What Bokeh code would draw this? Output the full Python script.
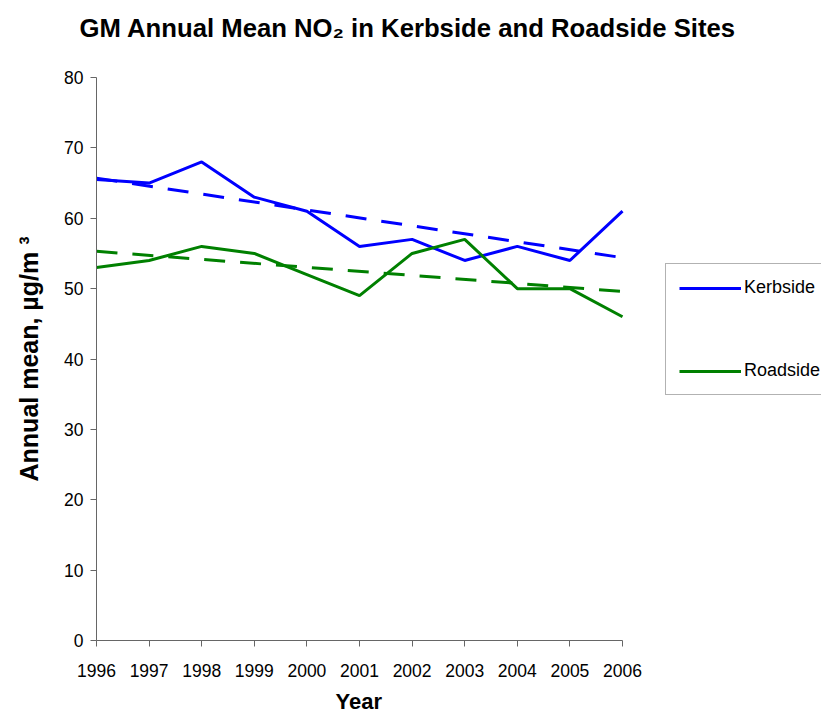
from bokeh.plotting import figure
from bokeh.models import Range1d, FixedTicker, Legend, LegendItem, Title
from bokeh.embed import file_html
from bokeh.resources import INLINE

years = [1996, 1997, 1998, 1999, 2000, 2001, 2002, 2003, 2004, 2005, 2006]
kerbside = [65.5, 65, 68, 63, 61, 56, 57, 54, 56, 54, 61]
roadside = [53, 54, 56, 55, 52, 49, 55, 57, 50, 50, 46]
trend_years = [1996, 2006]
kerbside_trend = [65.7, 54.4]
roadside_trend = [55.3, 49.6]
y_ticks = [0, 10, 20, 30, 40, 50, 60, 70, 80]

FONT = "Liberation Sans"

# layout: the frame spans to the right edge so the legend can sit inside it;
# the x axis line is bounded to the data years.
W, H = 821, 715
LEFT, TOP, BOTTOM = 96, 77, 75
DATA_RIGHT_PX = 622
span = years[-1] - years[0]
x_end = years[0] + span * (W - LEFT) / (DATA_RIGHT_PX - LEFT)

p = figure(width=W, height=H, output_backend="svg", toolbar_location=None,
           x_range=Range1d(years[0], x_end), y_range=Range1d(0, 80),
           min_border_left=LEFT, min_border_right=0, min_border_top=TOP, min_border_bottom=BOTTOM)
p.outline_line_color = None
p.xgrid.visible = False
p.ygrid.visible = False

p.title.text = "GM Annual Mean NO\u2082 in Kerbside and Roadside Sites"
p.title.text_font = FONT
p.title.text_font_size = "25.7px"
p.title.text_font_style = "bold"
p.title.text_color = "black"
p.title.align = "left"
p.title.offset = -17
p.title.standoff = 0
p.title.vertical_align = "bottom"
p.title.padding = dict(left=0, right=0, top=0, bottom=36)

for ax in (p.xaxis[0], p.yaxis[0]):
    ax.axis_line_color = "#666666"
    ax.major_tick_line_color = "#666666"
    ax.minor_tick_line_color = None
    ax.major_tick_out = 6
    ax.major_tick_in = 0
    ax.major_label_text_font = FONT
    ax.major_label_text_font_size = "17.5px"
    ax.major_label_text_color = "black"
    ax.axis_label_text_font = FONT
    ax.axis_label_text_font_style = "bold"
    ax.axis_label_text_color = "black"

p.xaxis.ticker = FixedTicker(ticks=years)
p.xaxis.bounds = (years[0], years[-1])
p.xaxis.major_label_standoff = 17
p.yaxis.ticker = FixedTicker(ticks=y_ticks)
p.yaxis.major_label_standoff = 7
p.yaxis.axis_label = "Annual mean, \u00b5g/m \u00b3"
p.yaxis.axis_label_text_font_size = "25px"
p.yaxis.axis_label_standoff = 18

year_title = Title(text="Year", text_font=FONT, text_font_size="22px", text_font_style="bold",
                   text_color="black", align="left", offset=335 - LEFT,
                   vertical_align="top", standoff=0,
                   padding=dict(left=0, right=0, top=9, bottom=0))
p.add_layout(year_title, "below")

rk = p.line(years, kerbside, line_color="#0000FF", line_width=3)
rr = p.line(years, roadside, line_color="#008000", line_width=3)
p.line(trend_years, kerbside_trend, line_color="#0000FF", line_width=3, line_dash="21 15")
p.line(trend_years, roadside_trend, line_color="#008000", line_width=3, line_dash="21 15")

legend = Legend(items=[LegendItem(label="Kerbside", renderers=[rk]),
                       LegendItem(label="Roadside", renderers=[rr])],
                location=(665 - LEFT, H - BOTTOM - 395))
legend.glyph_width = 62
legend.glyph_height = 20
legend.label_height = 20
legend.spacing = 62
legend.padding = 13
legend.margin = 0
legend.label_standoff = 3
legend.label_text_font = FONT
legend.label_text_font_size = "18px"
legend.label_text_color = "black"
legend.border_line_color = "#666666"
legend.border_line_width = 1
legend.background_fill_alpha = 1
p.add_layout(legend, "center")

open("out.html", "w").write(file_html(p, INLINE))
